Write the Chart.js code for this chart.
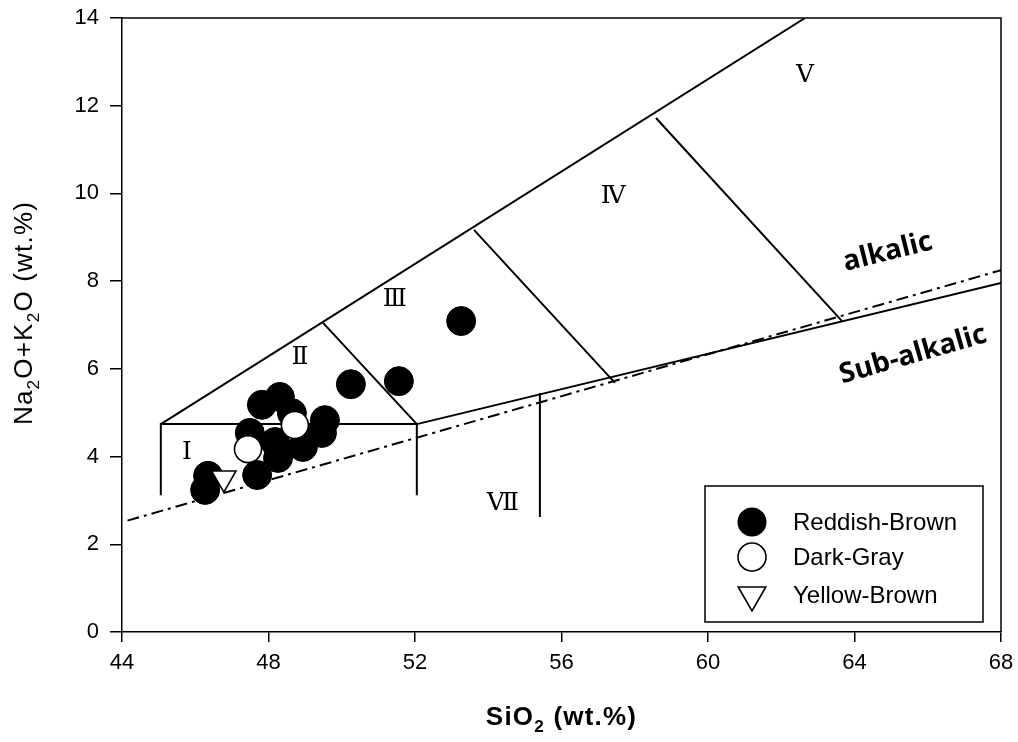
<!DOCTYPE html>
<html>
<head>
<meta charset="utf-8">
<script src="https://cdn.jsdelivr.net/npm/chart.js@4.4.1/dist/chart.umd.min.js"></script>
<style>
html,body{margin:0;padding:0;background:#fff;}
canvas{display:block;}
</style>
</head>
<body>
<canvas id="c" width="1018" height="742" style="width:1018px;height:742px"></canvas>
<script>
// ---- axes ----
const xTicks = [44, 48, 52, 56, 60, 64, 68];
const yTicks = [0, 2, 4, 6, 8, 10, 12, 14];

// ---- samples (SiO2, Na2O+K2O) ----
const reddishSiO2 = [53.26, 51.56, 50.25, 49.54, 49.46, 48.94, 48.31, 47.82, 48.64, 47.49, 48.18, 48.26, 47.69, 46.35, 46.27];
const reddishAlk  = [7.09, 5.72, 5.65, 4.83, 4.54, 4.22, 5.36, 5.18, 4.99, 4.54, 4.33, 3.97, 3.58, 3.56, 3.24];
const darkGraySiO2 = [48.72, 47.44];
const darkGrayAlk  = [4.72, 4.17];
const yellowSiO2 = [46.78];
const yellowAlk  = [3.51];

// ---- classification boundaries ----
const upperEnvelope = [[45.06, 4.74], [62.65, 14]];
const fieldIBase    = [[45.06, 3.12], [45.06, 4.74], [52.05, 4.74], [52.05, 3.12]];
const boundaryII    = [[49.49, 7.05], [52.05, 4.74]];
const boundaryIII   = [[53.61, 9.17], [57.46, 5.68]];
const boundaryIV    = [[58.58, 11.72], [63.66, 7.09]];
const subAlkLine    = [[52.05, 4.74], [68, 7.96]];
const boundaryVII   = [[55.41, 5.45], [55.41, 2.62]];
const alkalicDivide = [[44.15, 2.54], [68, 8.25]];

// ---- text labels (data coords) ----
const fieldNames = ['Ⅰ', 'Ⅱ', 'Ⅲ', 'Ⅳ', 'Ⅴ', 'Ⅶ'];
const fieldX = [45.77, 48.86, 51.45, 57.41, 62.65, 54.4];
const fieldY = [4.1, 6.25, 7.59, 9.92, 12.7, 2.94];
const seriesNames = ['Reddish-Brown', 'Dark-Gray', 'Yellow-Brown'];

const toPts = (xs, ys) => xs.map((x, i) => ({x: x, y: ys[i]}));
const toPairs = arr => arr.map(p => ({x: p[0], y: p[1]}));

function lineDs(arr, dash) {
  return {
    data: toPairs(arr), showLine: true, pointRadius: 0, pointHoverRadius: 0,
    borderColor: '#000', borderWidth: 2, fill: false, order: 5,
    borderDash: dash || [], tension: 0
  };
}

const overlay = {
  id: 'overlay',
  afterDraw(chart) {
    const ctx = chart.ctx, a = chart.chartArea;
    const xs = chart.scales.x, ys = chart.scales.y;
    ctx.save();
    // top & right frame
    ctx.strokeStyle = '#000'; ctx.lineWidth = 1.5;
    ctx.beginPath();
    ctx.moveTo(a.left, a.top); ctx.lineTo(a.right, a.top); ctx.lineTo(a.right, a.bottom);
    ctx.stroke();

    // field numerals
    ctx.fillStyle = '#000';
    ctx.font = '25px "DejaVu Serif", "Noto Sans CJK KR", serif';
    ctx.textAlign = 'center'; ctx.textBaseline = 'middle';
    fieldNames.forEach((n, i) => {
      ctx.fillText(n, xs.getPixelForValue(fieldX[i]), ys.getPixelForValue(fieldY[i]));
    });

    // alkalic / sub-alkalic
    ctx.font = 'bold 28px "Open Sans"';
    ctx.save();
    ctx.translate(xs.getPixelForValue(64.91), ys.getPixelForValue(8.66));
    ctx.rotate(-14 * Math.PI / 180);
    ctx.fillText('alkalic', 0, 0);
    ctx.restore();
    ctx.save();
    ctx.translate(xs.getPixelForValue(65.6), ys.getPixelForValue(6.32));
    ctx.rotate(-16 * Math.PI / 180);
    ctx.fillText('Sub-alkalic', 0, 0);
    ctx.restore();

    // axis titles with subscripts
    function rich(parts, cx, baseY, size, bold, spacing) {
      const f = (s) => (bold ? 'bold ' : '') + s + 'px "Liberation Sans", Arial, sans-serif';
      try { ctx.letterSpacing = spacing + 'px'; } catch (e) {}
      let w = 0;
      parts.forEach(p => { ctx.font = f(p[1] ? size * 0.66 : size); w += ctx.measureText(p[0]).width; });
      let x = cx - w / 2;
      ctx.textAlign = 'left'; ctx.textBaseline = 'alphabetic';
      parts.forEach(p => {
        ctx.font = f(p[1] ? size * 0.66 : size);
        ctx.fillText(p[0], x, baseY + (p[1] ? size * 0.28 : 0));
        x += ctx.measureText(p[0]).width;
      });
      try { ctx.letterSpacing = '0px'; } catch (e) {}
    }
    rich([['SiO', 0], ['2', 1], [' (wt.%)', 0]], (a.left + a.right) / 2, 725, 26, true, 1.2);
    ctx.save();
    ctx.translate(32, 313);
    ctx.rotate(-Math.PI / 2);
    rich([['Na', 0], ['2', 1], ['O+K', 0], ['2', 1], ['O (wt.%)', 0]], 0, 0, 26, false, 1.2);
    ctx.restore();

    // legend
    const lx = 705, ly = 486, lw = 278, lh = 136;
    ctx.fillStyle = '#fff';
    ctx.fillRect(lx, ly, lw, lh);
    ctx.strokeStyle = '#000'; ctx.lineWidth = 1.5;
    ctx.strokeRect(lx, ly, lw, lh);
    const rows = [522, 557, 595], mx = 752;
    ctx.beginPath(); ctx.arc(mx, rows[0], 14.5, 0, Math.PI * 2);
    ctx.fillStyle = '#000'; ctx.fill();
    ctx.beginPath(); ctx.arc(mx, rows[1], 14, 0, Math.PI * 2);
    ctx.fillStyle = '#fff'; ctx.fill(); ctx.lineWidth = 1.6; ctx.stroke();
    const r = 16;
    ctx.beginPath();
    ctx.moveTo(mx - r * 0.866, rows[2] - r * 0.5);
    ctx.lineTo(mx + r * 0.866, rows[2] - r * 0.5);
    ctx.lineTo(mx, rows[2] + r);
    ctx.closePath();
    ctx.fillStyle = '#fff'; ctx.fill(); ctx.stroke();
    ctx.fillStyle = '#000';
    ctx.font = '24px "Liberation Sans", Arial, sans-serif';
    ctx.textAlign = 'left'; ctx.textBaseline = 'middle';
    seriesNames.forEach((n, i) => ctx.fillText(n, 793, rows[i] + 1));
    ctx.restore();
  }
};

const tickFont = {family: '"Liberation Sans", Arial, sans-serif', size: 22};

new Chart(document.getElementById('c'), {
  type: 'scatter',
  data: {
    datasets: [
      {label: seriesNames[2], data: toPts(yellowSiO2, yellowAlk), pointStyle: 'triangle', rotation: 180,
       pointRadius: 14, backgroundColor: '#fff', borderColor: '#000', borderWidth: 1.6, order: 0},
      {label: seriesNames[1], data: toPts(darkGraySiO2, darkGrayAlk), pointStyle: 'circle',
       pointRadius: 13.5, backgroundColor: '#fff', borderColor: '#000', borderWidth: 1.6, order: 1},
      {label: seriesNames[0], data: toPts(reddishSiO2, reddishAlk), pointStyle: 'circle',
       pointRadius: 14.5, backgroundColor: '#000', borderColor: '#000', borderWidth: 1, order: 2},
      lineDs(upperEnvelope), lineDs(fieldIBase), lineDs(boundaryII), lineDs(boundaryIII),
      lineDs(boundaryIV), lineDs(subAlkLine), lineDs(boundaryVII),
      lineDs(alkalicDivide, [12, 5, 3, 5])
    ]
  },
  options: {
    responsive: false, animation: false, devicePixelRatio: 1,
    layout: {padding: {left: 0, right: 17, top: 18, bottom: 0}},
    plugins: {legend: {display: false}, tooltip: {enabled: false}},
    events: [],
    scales: {
      x: {
        type: 'linear', min: 44, max: 68,
        afterBuildTicks(s) { s.ticks = xTicks.map(v => ({value: v})); },
        ticks: {font: tickFont, color: '#000', padding: 8, maxRotation: 0, autoSkip: false},
        grid: {drawOnChartArea: false, drawTicks: true, tickLength: 10, color: '#000', lineWidth: 1.5},
        border: {display: true, color: '#000', width: 1.5},
        afterFit(s) { s.height = 110; s.paddingLeft = 0; s.paddingRight = 0; }
      },
      y: {
        type: 'linear', min: 0, max: 14,
        afterBuildTicks(s) { s.ticks = yTicks.map(v => ({value: v})); },
        ticks: {font: tickFont, color: '#000', padding: 11, autoSkip: false},
        grid: {drawOnChartArea: false, drawTicks: true, tickLength: 12, color: '#000', lineWidth: 1.5},
        border: {display: true, color: '#000', width: 1.5},
        afterFit(s) { s.width = 122; s.paddingTop = 0; s.paddingBottom = 0; }
      }
    }
  },
  plugins: [overlay]
});
</script>
</body>
</html>
